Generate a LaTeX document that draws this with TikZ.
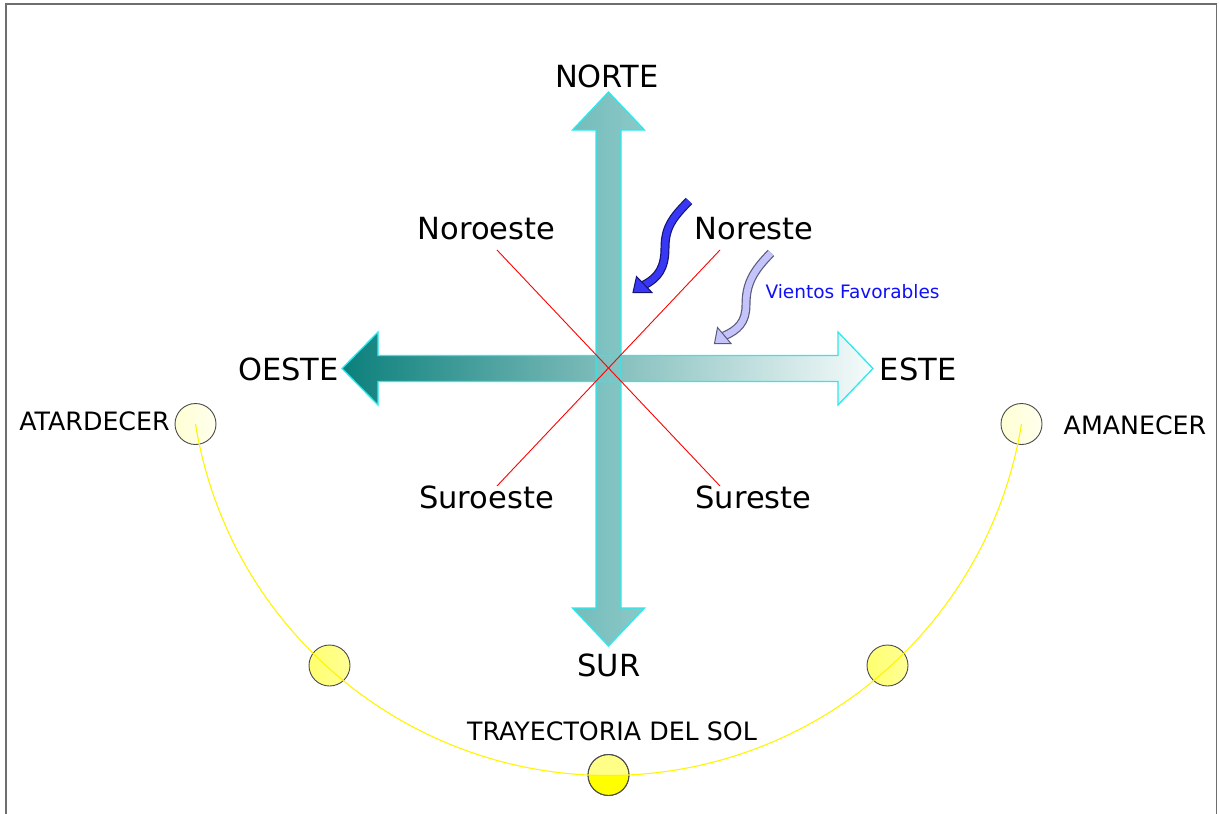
\documentclass[tikz,border=0pt]{standalone}
\usepackage{fontspec}
\setmainfont{DejaVu Sans}
\definecolor{framecol}{RGB}{110,110,110}
\definecolor{tealdark}{RGB}{12,128,124}
\definecolor{teallight}{RGB}{246,251,251}
\definecolor{tealmidA}{RGB}{116,188,186}
\definecolor{tealmidB}{RGB}{140,201,200}
\definecolor{edgecyan}{RGB}{40,235,240}
\definecolor{windA}{RGB}{55,55,245}
\definecolor{windAedge}{RGB}{20,20,110}
\definecolor{windB}{RGB}{196,196,250}
\definecolor{windBedge}{RGB}{90,90,125}
\definecolor{sunpale}{RGB}{255,255,212}
\definecolor{sunpaleR}{RGB}{255,255,238}
\definecolor{sunmid}{RGB}{255,255,110}
\definecolor{sunmidR}{RGB}{255,255,150}
\definecolor{suntop}{RGB}{255,255,135}
\definecolor{sunfull}{RGB}{255,255,0}
\definecolor{pathyellow}{RGB}{255,245,0}
\definecolor{ventblue}{RGB}{15,15,250}
\begin{document}
\begin{tikzpicture}[x=1pt,y=-1pt,
  lbl/.style={inner sep=0pt, font=\fontsize{30.5}{36}\selectfont},
  slbl/.style={inner sep=0pt, font=\fontsize{25.3}{30}\selectfont},
  dirline/.style={draw=red, line width=0.9pt},
  arrowedge/.style={draw=edgecyan, line width=1.3pt, line join=miter},
  sun/.style={circle, draw=black!70, line width=0.9pt, minimum size=41pt, inner sep=0pt},
  sunpath/.style={draw=pathyellow, line width=1.1pt},
  windshaftA/.style={draw=windAedge, line width=9pt, line cap=butt},
  windfillA/.style={draw=windA, line width=6.6pt, line cap=butt},
  windshaftB/.style={draw=windBedge, line width=9pt, line cap=butt},
  windfillB/.style={draw=windB, line width=6.6pt, line cap=butt},
  windheadA/.style={fill=windA, draw=windAedge, line width=1pt, line join=miter},
  windheadB/.style={fill=windB, draw=windBedge, line width=1pt, line join=miter}]
\useasboundingbox (0,0) rectangle (1219,814);

% frame
\draw[framecol, line width=1.6pt] (6,814) -- (6,4) -- (1216.5,4) -- (1216.5,814);

% horizontal (OESTE-ESTE) arrow and vertical (NORTE-SUR) arrow
\def\harrow{(342,368.5) -- (378,332) -- (378,355.5) -- (838,355.5) -- (838,332) -- (873,368.5) -- (838,405) -- (838,381.5) -- (378,381.5) -- (378,405) -- cycle}
\def\varrow{(608.5,92) -- (644.5,130) -- (621,130) -- (621,608) -- (644.5,608) -- (608.5,646) -- (572.5,608) -- (596,608) -- (596,130) -- (572.5,130) -- cycle}
\shade[left color=tealdark, right color=teallight] \harrow;
\shade[left color=tealmidA, right color=tealmidB] \varrow;
\draw[arrowedge] \harrow;
\draw[arrowedge] \varrow;

% diagonal directions
\coordinate (nwEnd) at (497,250);
\coordinate (seEnd) at (720,486);
\coordinate (neEnd) at (720,250);
\coordinate (swEnd) at (497,486);
\draw[dirline] (nwEnd) -- (seEnd);
\draw[dirline] (neEnd) -- (swEnd);

% labels
\node[lbl] (N) at (607,76.5) {NORTE};
\node[lbl] (S) at (609,665) {SUR};
\node[lbl] (O) at (288.5,369) {OESTE};
\node[lbl] (E) at (918,369) {ESTE};
\node[lbl] (NO) at (486.5,229) {Noroeste};
\node[lbl] (NE) at (754,229) {Noreste};
\node[lbl] (SO) at (486.5,497) {Suroeste};
\node[lbl] (SE) at (753.5,497) {Sureste};
\node[slbl] (atard) at (94.5,421) {ATARDECER};
\node[slbl] (aman) at (1135,425) {AMANECER};
\node[slbl] (tray) at (612,731) {TRAYECTORIA DEL SOL};
\node[inner sep=0pt, text=ventblue, font=\fontsize{18.5}{22}\selectfont] (vient) at (852.5,291.5) {Vientos Favorables};

% wind arrows
\coordinate (wAtail) at (689,201);
\coordinate (wAend) at (644,285);
\draw[windshaftA] (wAtail) .. controls (672,218) and (665,228) .. (665,248) .. controls (665,268) and (658,278) .. (wAend);
\draw[windfillA] (wAtail) .. controls (672,218) and (665,228) .. (665,248) .. controls (665,268) and (658,278) .. (wAend);
\draw[windheadA] (636.5,276.5) -- (633,292.5) -- (652,292.5) -- cycle;
\coordinate (wBtail) at (771,253);
\coordinate (wBend) at (724,336);
\draw[windshaftB] (wBtail) .. controls (752,272) and (746,285) .. (746,305) .. controls (746,322) and (738,330) .. (wBend);
\draw[windfillB] (wBtail) .. controls (752,272) and (746,285) .. (746,305) .. controls (746,322) and (738,330) .. (wBend);
\draw[windheadB] (717.5,327.5) -- (714.5,343.5) -- (731,343.5) -- cycle;

% suns
\node[sun, left color=sunpale, right color=sunpaleR] (sunW) at (195.5,424) {};
\node[sun, left color=sunpale, right color=sunpaleR] (sunE) at (1021.5,424) {};
\node[sun, left color=sunmid, right color=sunmidR] (sunSW) at (329.5,665.5) {};
\node[sun, left color=sunmid, right color=sunmidR] (sunSE) at (887.5,665.5) {};
\node[sun, fill=suntop, path picture={\fill[sunfull] (path picture bounding box.west) rectangle (path picture bounding box.south east);}] (sunS) at (608.5,775) {};
\node[sun, fill=none] at (sunS) {};

% sun path
\draw[sunpath] (sunW.center) arc[start angle=170.79, end angle=9.21, radius=418.4];
\end{tikzpicture}
\end{document}
